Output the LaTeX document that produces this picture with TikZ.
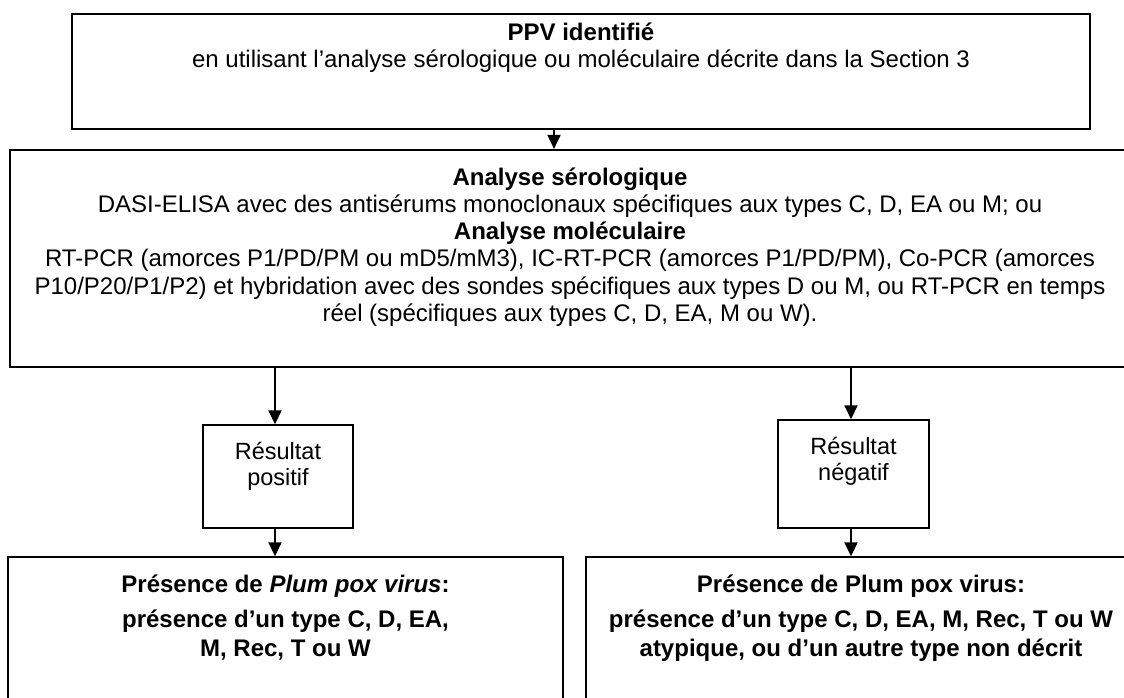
\documentclass[tikz,border=0pt]{standalone}
\usepackage{fontspec}
\setmainfont{Liberation Sans}
\usetikzlibrary{arrows.meta}
\begin{document}
\begin{tikzpicture}[x=1pt,y=1pt,
  box/.style={draw=black, rectangle, inner sep=0pt},
  txt/.style={inner sep=0pt, align=center, font=\fontsize{24}{27.2}\selectfont},
  arr/.style={line width=2pt, -{Triangle[width=13pt,length=14pt]}}]
\useasboundingbox (0,0) rectangle (1124,-698);
% boxes
\node[box, line width=2.2pt, minimum width=1018pt, minimum height=115pt] (top) at (581,-71.5) {};
\node[box, line width=2.2pt, minimum width=1120pt, minimum height=217pt] (ana) at (570,-258.5) {};
\node[box, line width=1.5pt, minimum width=150pt, minimum height=103pt] (pos) at (278,-476.5) {};
\node[box, line width=1.5pt, minimum width=151pt, minimum height=108pt] (neg) at (853.5,-474) {};
\node[box, line width=1.5pt, minimum width=555pt, minimum height=200pt] (bl) at (285.5,-657) {};
\node[box, line width=1.5pt, minimum width=550pt, minimum height=200pt] (br) at (861,-657) {};
% texts
\node[txt, anchor=north] (toptext) at (581,-21.1) {\strut\textbf{PPV identifié}\\ en utilisant l’analyse sérologique ou moléculaire décrite dans la Section 3};
\node[txt, anchor=north] (anatext) at (570,-166.1) {\strut\textbf{Analyse sérologique}\\
DASI-ELISA avec des antisérums monoclonaux spécifiques aux types C, D, EA ou M; ou\\
\textbf{Analyse moléculaire}\\
RT-PCR (amorces P1/PD/PM ou mD5/mM3), IC-RT-PCR (amorces P1/PD/PM), Co-PCR (amorces\\
P10/P20/P1/P2) et hybridation avec des sondes spécifiques aux types D ou M, ou RT-PCR en temps\\
réel (spécifiques aux types C, D, EA, M ou W).};
\node[txt, anchor=north, font=\fontsize{23.5}{26}\selectfont] (postext) at (278,-441.1) {\strut Résultat\\ positif};
\node[txt, anchor=north, font=\fontsize{23.5}{26}\selectfont] (negtext) at (853.5,-436.1) {\strut Résultat\\ négatif};
\node[txt, anchor=north, font=\fontsize{24}{29}\bfseries] (bltext) at (285.5,-572.1) {\strut Présence de \textit{Plum pox virus}:\\[6pt] présence d’un type C, D, EA,\\ M, Rec, T ou W};
\node[txt, anchor=north, font=\fontsize{24}{29}\bfseries] (brtext) at (861,-572.1) {\strut Présence de Plum pox virus:\\[6pt] présence d’un type C, D, EA, M, Rec, T ou W\\ atypique, ou d’un autre type non décrit};
% connectors
\coordinate (ax) at (554,0);
\coordinate (lx) at (275,0);
\coordinate (rx) at (851,0);
\draw[arr] (top.south -| ax) -- (ana.north -| ax);
\draw[arr] (ana.south -| lx) -- (pos.north -| lx);
\draw[arr] (pos.south -| lx) -- (bl.north -| lx);
\draw[arr] (ana.south -| rx) -- (neg.north -| rx);
\draw[arr] (neg.south -| rx) -- (br.north -| rx);
\end{tikzpicture}
\end{document}
